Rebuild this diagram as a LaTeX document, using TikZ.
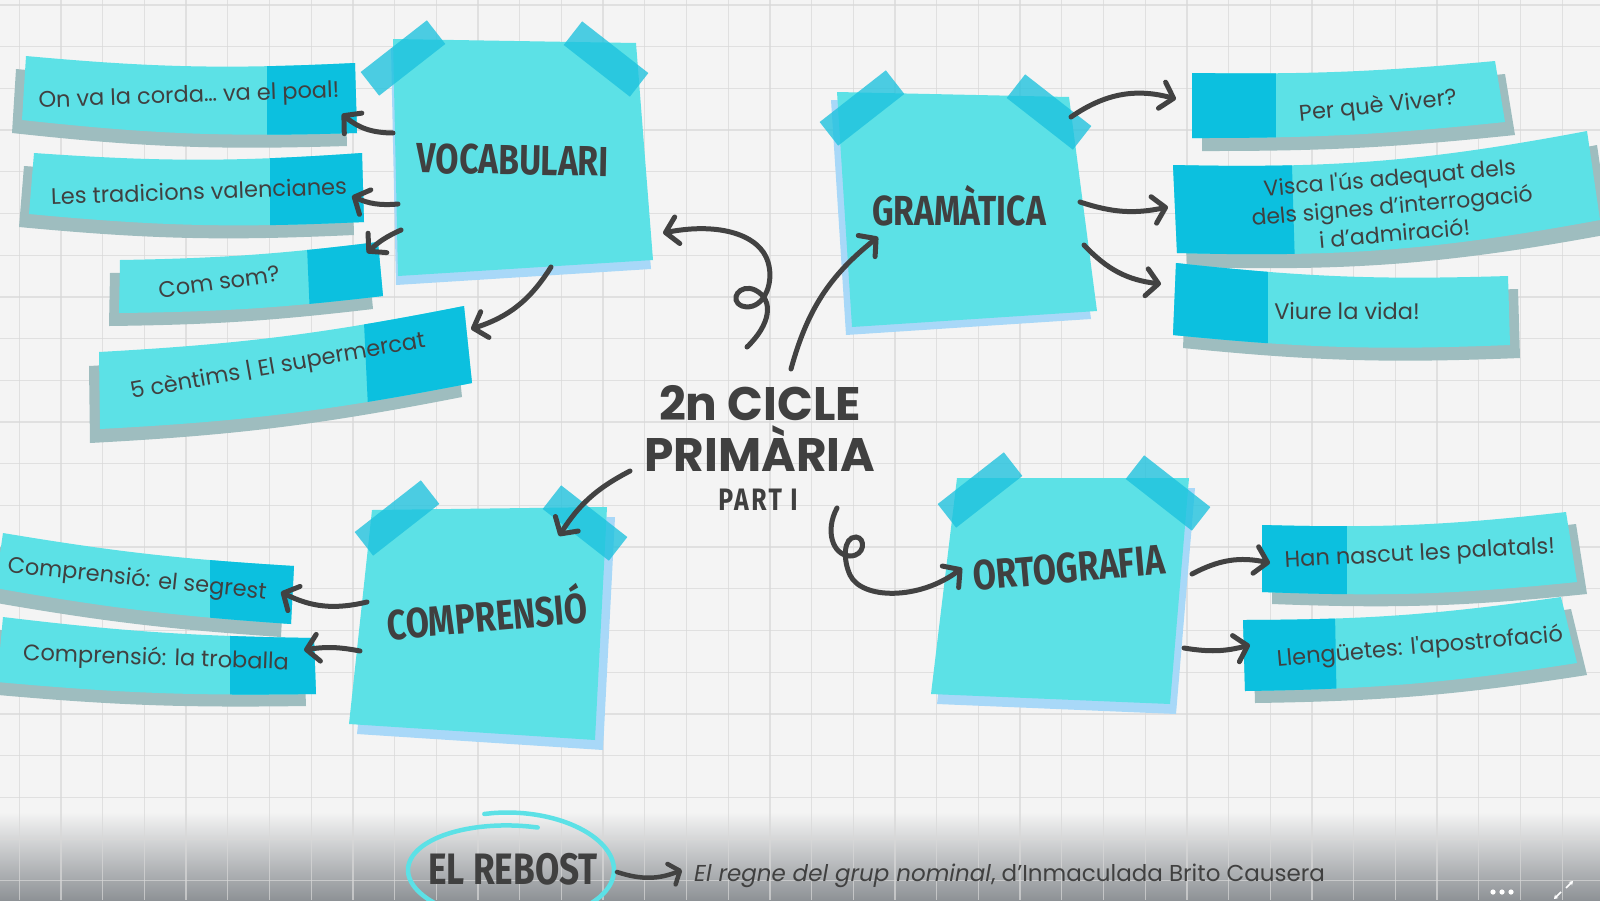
\documentclass[tikz,border=0pt]{standalone}
\usepackage{fontspec}
\setmainfont{Poppins}[Ligatures=TeXOff]
\newfontfamily\titlef{Fira Sans}[FakeStretch=0.8]
\newfontfamily\titlefs{Fira Sans}[FakeStretch=0.8, LetterSpace=8]
\usetikzlibrary{arrows.meta}
\definecolor{bgc}{HTML}{F4F4F4}
\definecolor{gridc}{HTML}{D8D8D8}
\definecolor{bandc}{HTML}{8E9296}
\definecolor{notec}{HTML}{5CE1E6}
\definecolor{noteshc}{HTML}{A8D8F8}
\definecolor{tapec}{HTML}{1CC2DE}
\definecolor{stripc}{HTML}{5CE1E6}
\definecolor{stripdk}{HTML}{0CC0DF}
\definecolor{stripsh}{HTML}{9EBDBF}
\definecolor{inkc}{HTML}{404040}
\definecolor{arrc}{HTML}{424242}
% #1 TL, #2 TR, #3 BR, #4 BL, #5 shadow shift, #6 dark region, #7 top bend, #8 bottom bend
\newcommand\strip[8]{%
  \fill[stripsh] ([shift={#5}]#1) to[#7] ([shift={#5}]#2) -- ([shift={#5}]#3) to[#8] ([shift={#5}]#4) -- cycle;
  \fill[stripc] (#1) to[#7] (#2) -- (#3) to[#8] (#4) -- cycle;
  \begin{scope}
    \clip (#1) to[#7] (#2) -- (#3) to[#8] (#4) -- cycle;
    \fill[stripdk] #6;
  \end{scope}}
\newcommand\stickynote[5]{%
  \fill[noteshc] ([shift={#5}]#1) -- ([shift={#5}]#2) -- ([shift={#5}]#3) -- ([shift={#5}]#4) -- cycle;
  \fill[notec] (#1) -- (#2) -- (#3) -- (#4) -- cycle;}
\newcommand\tape[2]{%
  \fill[tape, shift={(#1)}, rotate=#2] (-42,-15) -- (42,-15) -- (42,15) -- (-42,15) -- cycle;}
\begin{document}
\begin{tikzpicture}[x=1pt,y=-1pt,
  lbl/.style={font=\fontsize{22.5}{28}\selectfont, text=inkc, align=center, inner sep=0pt},
  ttl/.style={font=\titlef\bfseries\fontsize{42}{42}\selectfont, text=inkc, inner sep=0pt},
  ctitle/.style={font=\bfseries\fontsize{47}{47}\selectfont, text=inkc, inner sep=0pt},
  ptitle/.style={font=\titlefs\bfseries\fontsize{31}{31}\selectfont, text=inkc, inner sep=0pt},
  arr/.style={draw=arrc, line width=5pt, line cap=round, -{Straight Barb[length=12pt,width=27pt,round]}},
  tape/.style={fill=tapec, fill opacity=0.78},
]
\useasboundingbox (0,0) rectangle (1600,900);
\clip (0,0) rectangle (1600,900);
% background
\fill[bgc] (0,0) rectangle (1600,900);
\shade[top color=bgc, bottom color=bandc] (0,812) rectangle (1600,900);
\foreach \x in {19.3,61,...,1600} \draw[gridc, line width=1.3pt, opacity=0.7] (\x,0) -- (\x,900);
\foreach \y in {5,46.7,...,900} \draw[gridc, line width=1.3pt, opacity=0.7] (0,\y) -- (1600,\y);

% strips left
\strip{26,56}{355,63}{357,133}{22,120}{(-10,13)}{(267,0) rectangle (420,200)}{bend right=4}{bend left=4}
\strip{34,153}{362,153}{364,222}{29,214}{(-10,13)}{(270,100) rectangle (420,260)}{bend right=4}{bend left=4}
\strip{120,260}{378,242}{383,296}{119,313}{(-10,13)}{(305,200) -- (311,340) -- (450,340) -- (450,200) -- cycle}{bend right=3}{bend left=3}
\strip{99,352}{464,306}{472,383}{100,429}{(-10,14)}{(362,280) -- (370,450) -- (520,450) -- (520,280) -- cycle}{bend right=4}{bend left=4}
\strip{3,533}{294,566}{291,624}{-5,588}{(-10,13)}{(210,500) rectangle (320,660)}{bend right=3}{bend left=3}
\strip{3,617}{314,638}{316,694}{-3,682}{(-10,12)}{(230,600) rectangle (340,720)}{bend right=3}{bend left=3}
% strips right
\strip{1192,73}{1495,61}{1505,122}{1192,138}{(10,13)}{(1100,0) rectangle (1276,200)}{bend right=3}{bend left=3}
\strip{1173,165}{1587,131}{1600,220}{1177,253}{(10,14)}{(1100,100) -- (1290,100) -- (1296,300) -- (1100,300) -- cycle}{bend right=6}{bend left=6}
\strip{1176,263}{1508,276}{1510,345}{1173,335}{(10,13)}{(1100,230) rectangle (1268,380)}{bend right=4}{bend left=4}
\strip{1262,525}{1566,512}{1577,582}{1262,592}{(10,12)}{(1200,480) rectangle (1347,620)}{bend right=4}{bend left=4}
\strip{1243,620}{1561,597}{1577,663}{1245,691}{(10,12)}{(1200,560) -- (1334,560) -- (1337,720) -- (1200,720) -- cycle}{bend right=4}{bend left=4}

% strip texts
\node[lbl, rotate=2] (t1) at (189,97) {On va la corda… va el poal!};
\node[lbl, rotate=2] (t2) at (199,191) {Les tradicions valencianes};
\node[lbl, rotate=8] (t3) at (219,282) {Com som?};
\node[lbl, rotate=10] (t4) at (278,367) {5 cèntims | El supermercat};
\node[lbl, rotate=-6] (t10) at (137,580) {Comprensió: el segrest};
\node[lbl, rotate=-2] (t11) at (156,659) {Comprensió: la troballa};
\node[lbl, rotate=6] (t5) at (1378,107) {Per què Viver?};
\node[lbl, rotate=5, font=\fontsize{22}{28}\selectfont] (t6) at (1392,205) {Visca l'ús adequat dels\\dels signes d’interrogació\\i d’admiració!};
\node[lbl] (t7) at (1347,311) {Viure la vida!};
\node[lbl, rotate=3] (t8) at (1420,555) {Han nascut les palatals!};
\node[lbl, rotate=5] (t9) at (1420,648) {Llengüetes: l'apostrofació};

% sticky notes
\stickynote{393,39}{636,43}{653,260}{398,276}{(-2,9)}
\stickynote{837,92}{1069,97}{1097,311}{852,327}{(-6,8)}
\stickynote{957,478}{1189,478}{1170,704}{931,694}{(6,10)}
\stickynote{372,510}{607,507}{595,740}{349,724}{(8,10)}
% tapes
\tape{403,58}{38}
\tape{606,59}{-38}
\tape{862,108}{38}
\tape{1049,112}{-38}
\tape{980,490}{38}
\tape{1168,493}{-38}
\tape{397,518}{38}
\tape{585,523}{-38}

% note titles
\node[ttl, rotate=-1] (nv) at (513,160) {VOCABULARI};
\node[ttl] (ng) at (959,206) {GRAMÀTICA};
\node[ttl, rotate=5] (no) at (1069,568) {ORTOGRAFIA};
\node[ttl, rotate=5] (nc) at (487,612) {COMPRENSIÓ};

% central title
\node[ctitle] (c1) at (760,403) {2n CICLE};
\node[ctitle] (c2) at (760,449) {PRIMÀRIA};
\node[ptitle] (c3) at (758,500) {PART I};

% arrow end points
\coordinate (v1) at (393,133); \coordinate (e1) at (342,114);
\coordinate (v2) at (398,204); \coordinate (e2) at (352,196);
\coordinate (v3) at (401,230); \coordinate (e3) at (367,253);
\coordinate (v4) at (551,267); \coordinate (e4) at (471,329);
\coordinate (g1) at (1071,117); \coordinate (e5) at (1176,99);
\coordinate (g2) at (1080,202); \coordinate (e6) at (1168,207);
\coordinate (g3) at (1084,245); \coordinate (e7) at (1161,284);
\coordinate (o1) at (1192,574); \coordinate (e8) at (1270,563);
\coordinate (o2) at (1184,648); \coordinate (e9) at (1250,645);
\coordinate (k1) at (367,602); \coordinate (e10) at (281,592);
\coordinate (k2) at (360,651); \coordinate (e11) at (304,650);
\coordinate (m1) at (747,347); \coordinate (mv) at (663,233);
\coordinate (m2) at (791,369); \coordinate (mg) at (878,237);
\coordinate (m3) at (630,471); \coordinate (mc) at (559,536);
\coordinate (m4) at (837,508); \coordinate (mo) at (962,568);

% arrows
\draw[arr] (v1) to[bend left=20] (e1);
\draw[arr] (v2) to[bend left=15] (e2);
\draw[arr] (v3) to[bend right=10] (e3);
\draw[arr] (v4) to[bend left=20] (e4);
\draw[arr] (g1) to[bend left=25] (e5);
\draw[arr] (g2) to[bend right=15] (e6);
\draw[arr] (g3) to[bend right=20] (e7);
\draw[arr] (o1) to[bend left=20] (e8);
\draw[arr] (o2) to[bend right=12] (e9);
\draw[arr] (k1) to[bend left=20] (e10);
\draw[arr] (k2) to[bend right=10] (e11);
\draw[arr] (m1) .. controls (770,325) and (775,300) .. (755,290) .. controls (740,283) and (728,300) .. (742,306) .. controls (762,312) and (775,285) .. (768,262) .. controls (760,235) and (720,222) .. (mv);
\draw[arr] (m2) to[bend left=18] (mg);
\draw[arr] (m3) to[bend right=15] (mc);
\draw[arr] (m4) .. controls (825,530) and (832,555) .. (850,556) .. controls (865,556) and (866,538) .. (856,537) .. controls (843,537) and (843,560) .. (850,575) .. controls (862,600) and (920,600) .. (mo);

% bottom: el rebost
\draw[notec, line width=4.5pt, line cap=round] plot[smooth, domain=75:465, samples=70] ({511+103*cos(\x)}, {870-(44+14*(\x-75)/390)*sin(\x)});
\node[font=\titlef\bfseries\fontsize{44}{44}\selectfont, text=inkc, inner sep=0pt] (rb) at (513,869) {EL REBOST};
\coordinate (b1) at (617,872); \coordinate (b2) at (682,870);
\draw[draw=arrc, line width=4.5pt, line cap=round, -{Straight Barb[length=9pt,width=22pt,round]}] (b1) to[bend right=20] (b2);
\node[anchor=base west, font=\fontsize{23}{27}\selectfont, text=inkc, inner sep=0pt] (bt) at (694,881) {\textit{El regne del grup nominal}, d’Inmaculada Brito Causera};

% bottom-right icons
\fill[white] (1493,892) circle (2.6) (1502,892) circle (2.6) (1511,892) circle (2.6);
\draw[white, line width=1.6pt, -{Stealth[length=4pt,width=5pt]}] (1561,892) -- (1554,899);
\draw[white, line width=1.6pt, -{Stealth[length=4pt,width=5pt]}] (1566,888) -- (1573,881);
\end{tikzpicture}
\end{document}
